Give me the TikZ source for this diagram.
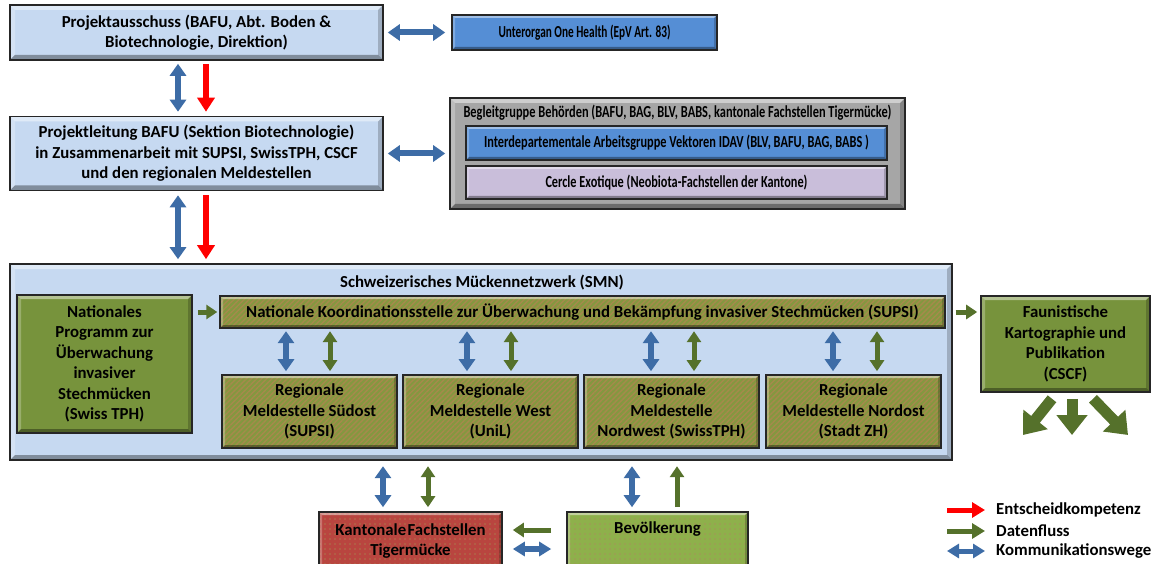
\documentclass[tikz,border=0pt]{standalone}
\usepackage{fontspec}
\setmainfont{Carlito}
\usetikzlibrary{arrows.meta,patterns.meta}
\definecolor{lblue}{HTML}{C6D9F1}
\definecolor{mblue}{HTML}{558ED5}
\definecolor{gbox}{HTML}{77933C}
\definecolor{olivebox}{HTML}{84983F}
\definecolor{olivestripe}{HTML}{A58A4C}
\definecolor{redbox}{HTML}{B9453F}
\definecolor{reddot}{HTML}{9DB05A}
\definecolor{lgreenbox}{HTML}{8EB04B}
\definecolor{greendot}{HTML}{C0706A}
\definecolor{grayb}{HTML}{A6A6A6}
\definecolor{lav}{HTML}{C9BEDA}
\definecolor{arblue}{HTML}{3D6CA6}
\definecolor{argreen}{HTML}{55712B}
\definecolor{border}{HTML}{262626}
\newcommand{\squeezeto}[2]{\resizebox{#1}{\height}{#2}}
\def\pb{path picture bounding box}
\begin{document}
\begin{tikzpicture}[x=1pt,y=-1pt,
  bevel/.style={path picture={
    \fill[white,opacity=.45] (\pb.north west) -- (\pb.north east) -- ([shift={(-#1,-#1)}]\pb.north east) -- ([shift={(#1,-#1)}]\pb.north west) -- cycle;
    \fill[white,opacity=.25] (\pb.north west) -- ([shift={(#1,-#1)}]\pb.north west) -- ([shift={(#1,#1)}]\pb.south west) -- (\pb.south west) -- cycle;
    \fill[black,opacity=.35] (\pb.south west) -- (\pb.south east) -- ([shift={(-#1,#1)}]\pb.south east) -- ([shift={(#1,#1)}]\pb.south west) -- cycle;
    \fill[black,opacity=.2] (\pb.north east) -- ([shift={(-#1,-#1)}]\pb.north east) -- ([shift={(-#1,#1)}]\pb.south east) -- (\pb.south east) -- cycle;
  }},
  bevel/.default=4pt,
  box/.style={draw=border, line width=1.6pt, inner sep=2pt, align=center,
    font=\bfseries\fontsize{16.8}{20.5}\selectfont, text=black},
  lbbox/.style={box, fill=lblue, bevel=5pt},
  bluebox/.style={box, fill=mblue, bevel=3pt},
  graybox/.style={box, fill=grayb, bevel=5pt},
  lavbox/.style={box, fill=lav, bevel=3pt},
  greenbox/.style={box, fill=gbox, bevel=4pt},
  hatchbox/.style={box, preaction={fill=olivebox},
    pattern={Lines[angle=45,distance=3.6pt,line width=1.4pt]}, pattern color=olivestripe, bevel=3pt},
  kantbox/.style={box, preaction={fill=redbox},
    pattern={Dots[radius=0.7pt,distance=5pt]}, pattern color=reddot, bevel=3pt},
  bevbox/.style={box, preaction={fill=lgreenbox},
    pattern={Dots[radius=0.7pt,distance=5pt]}, pattern color=greendot, bevel=3pt},
  plain/.style={font=\bfseries\fontsize{16.8}{20.5}\selectfont, text=black, inner sep=0pt},
  comm/.style={draw=arblue, line width=6pt,
    {Triangle[width=16pt,length=12pt]}-{Triangle[width=16pt,length=12pt]}},
  decision/.style={draw=red, line width=6pt, -{Triangle[width=17pt,length=14pt]}},
  data/.style={draw=argreen, line width=5pt, -{Triangle[width=14pt,length=11pt]}},
  datab/.style={draw=argreen, line width=5pt,
    {Triangle[width=14pt,length=11pt]}-{Triangle[width=14pt,length=11pt]}},
  fan/.style={draw=argreen, line width=11pt, -{Triangle[width=30pt,length=20pt]}}
]
\useasboundingbox (0,0) rectangle (1159,564);
\fill[white] (0,0) rectangle (1159,564);

% top left boxes
\node[lbbox, minimum width=373pt, minimum height=55pt] (pa) at (196.5,32.5)
  {Projektausschuss (BAFU, Abt. Boden \&\\Biotechnologie, Direktion)};
\node[lbbox, minimum width=373pt, minimum height=74pt] (pl) at (196.5,153.5)
  {Projektleitung BAFU (Sektion Biotechnologie)\\in Zusammenarbeit mit SUPSI, SwissTPH, CSCF\\und den regionalen Meldestellen};

% right top
\node[bluebox, minimum width=265pt, minimum height=35pt] (uo) at (584.5,32.5)
  {\squeezeto{172pt}{Unterorgan One Health (EpV Art. 83)}};
\node[graybox, minimum width=455pt, minimum height=111pt] (bg) at (677.5,153.5) {};
\node[plain] (bgt) at (677.5,113) {\squeezeto{428pt}{Begleitgruppe Behörden (BAFU, BAG, BLV, BABS, kantonale Fachstellen Tigermücke)}};
\node[bluebox, minimum width=421pt, minimum height=34pt] (id) at (676.5,143)
  {\squeezeto{385pt}{Interdepartementale Arbeitsgruppe Vektoren IDAV (BLV, BAFU, BAG, BABS )}};
\node[lavbox, minimum width=421pt, minimum height=33pt] (ce) at (676.5,182.5)
  {\squeezeto{262pt}{Cercle Exotique (Neobiota-Fachstellen der Kantone)}};

% SMN
\node[lbbox, minimum width=942pt, minimum height=196pt] (smn) at (481,362) {};
\node[plain] (smnt) at (482,283) {Schweizerisches Mückennetzwerk (SMN)};
\node[greenbox, minimum width=175pt, minimum height=138pt] (np) at (104.5,364)
  {Nationales\\Programm zur\\Überwachung\\invasiver\\Stechmücken\\(Swiss TPH)};
\node[hatchbox, minimum width=725pt, minimum height=32pt] (ko) at (582.5,312)
  {Nationale Koordinationsstelle zur Überwachung und Bekämpfung invasiver Stechmücken (SUPSI)};
\node[hatchbox, minimum width=175pt, minimum height=73pt] (r1) at (309.5,411.5)
  {Regionale\\Meldestelle Südost\\(SUPSI)};
\node[hatchbox, minimum width=175pt, minimum height=73pt] (r2) at (490.5,411.5)
  {Regionale\\Meldestelle West\\(UniL)};
\node[hatchbox, minimum width=175pt, minimum height=73pt] (r3) at (671.5,411.5)
  {Regionale\\Meldestelle\\Nordwest (SwissTPH)};
\node[hatchbox, minimum width=175pt, minimum height=73pt] (r4) at (853.5,411.5)
  {Regionale\\Meldestelle Nordost\\(Stadt ZH)};

% Faunistische
\node[greenbox, minimum width=169pt, minimum height=96pt] (fa) at (1065.5,344)
  {Faunistische\\Kartographie und\\Publikation\\(CSCF)};

% bottom
\node[kantbox, minimum width=183pt, minimum height=58pt] (kt) at (410.5,541)
  {Kantonale\hspace{1.5pt}Fachstellen\\Tigermücke};
\node[bevbox, minimum width=181pt, minimum height=58pt] (bv) at (657.5,541)
  {Bevölkerung\\\strut};

% arrows top
\draw[comm] ([xshift=4pt]pa.east) -- ([xshift=-6pt]uo.west);
\draw[comm] ([xshift=4pt]pl.east) -- ([xshift=-4pt]bg.west);
\draw[comm] ([xshift=-18.5pt,yshift=-3pt]pa.south) -- ([xshift=-18.5pt,yshift=4pt]pl.north);
\draw[decision] ([xshift=9.5pt,yshift=-3pt]pa.south) -- ([xshift=9.5pt,yshift=4pt]pl.north);
\draw[comm] ([xshift=-18.5pt,yshift=-4pt]pl.south) -- ([xshift=-303pt,yshift=4pt]smn.north);
\draw[decision] ([xshift=9.5pt,yshift=-4pt]pl.south) -- ([xshift=-275pt,yshift=4pt]smn.north);

% SMN internal
\draw[data, shorten <=5pt, shorten >=2pt] (np.east |- ko.west) -- (ko.west);
\draw[data, shorten <=10pt, shorten >=3pt] (ko.east) -- (fa.west |- ko.east);
\foreach \r/\a/\b in {r1/-23.5/20.5, r2/-23.5/20.5, r3/-20.5/22.5, r4/-20.5/23.5}{
  \draw[comm] ([xshift=\a pt,yshift=43pt]\r.north) -- ([xshift=\a pt,yshift=3pt]\r.north);
  \draw[datab] ([xshift=\b pt,yshift=43pt]\r.north) -- ([xshift=\b pt,yshift=3pt]\r.north);
}

% fan arrows
\coordinate (f1) at (1023,435);
\coordinate (f2) at (1072,435);
\coordinate (f3) at (1128,435);
\draw[fan] ([xshift=-13.5pt,yshift=-6pt]fa.south) -- (f1);
\draw[fan] ([xshift=6.5pt,yshift=-6pt]fa.south) -- (f2);
\draw[fan] ([xshift=27.5pt,yshift=-6pt]fa.south) -- (f3);

% bottom arrows
\draw[comm] ([xshift=-27.5pt,yshift=4pt]kt.north) -- ([xshift=-27.5pt,yshift=45pt]kt.north);
\draw[datab] ([xshift=17.5pt,yshift=4pt]kt.north) -- ([xshift=17.5pt,yshift=45pt]kt.north);
\draw[comm] ([xshift=-25.5pt,yshift=4pt]bv.north) -- ([xshift=-25.5pt,yshift=45pt]bv.north);
\draw[data] ([xshift=19.5pt,yshift=4pt]bv.north) -- ([xshift=19.5pt,yshift=45pt]bv.north);
\draw[data] ([xshift=-15pt,yshift=11pt]bv.west) -- ([xshift=10pt,yshift=11pt]kt.east);
\draw[comm, {Triangle[width=14pt,length=12pt]}-{Triangle[width=14pt,length=12pt]}]
  ([xshift=-15pt,yshift=-8pt]bv.west) -- ([xshift=10pt,yshift=-8pt]kt.east);

% legend
\node[plain, anchor=west] (le1) at (996,510) {Entscheidkompetenz};
\node[plain, anchor=west] (le2) at (996,531) {Datenfluss};
\node[plain, anchor=west] (le3) at (996,551) {Kommunikationswege};
\draw[decision, line width=5pt, -{Triangle[width=15pt,length=13pt]}] ([xshift=-49pt]le1.west) -- ([xshift=-11pt]le1.west);
\draw[data, line width=5pt, -{Triangle[width=15pt,length=13pt]}] ([xshift=-49pt]le2.west) -- ([xshift=-11pt]le2.west);
\draw[comm, line width=5pt, {Triangle[width=14pt,length=12pt]}-{Triangle[width=14pt,length=12pt]}] ([xshift=-49pt]le3.west) -- ([xshift=-11pt]le3.west);
\end{tikzpicture}
\end{document}
